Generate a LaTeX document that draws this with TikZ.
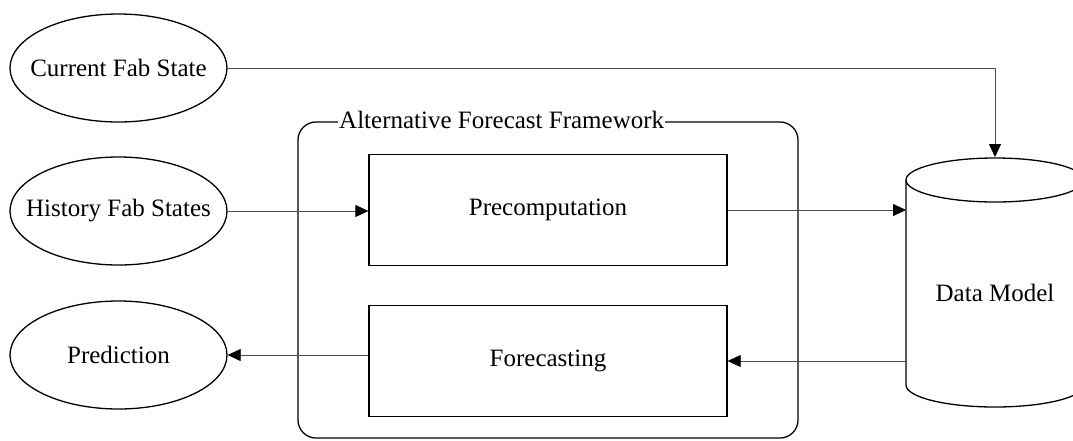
\documentclass[tikz,border=0pt]{standalone}
\usepackage{fontspec}
\setmainfont{Liberation Serif}
\usetikzlibrary{arrows.meta,shapes.geometric}
\begin{document}
\begin{tikzpicture}[x=1pt,y=-1pt,
  every node/.style={font=\fontsize{25}{30}\selectfont},
  outline/.style={draw=black, line width=1.3pt},
  state/.style={outline, ellipse, minimum width=217pt, minimum height=108pt, inner sep=0pt},
  stage/.style={outline, rectangle, minimum width=358pt, minimum height=111pt, inner sep=0pt},
  conn/.style={draw=black!70, line width=0.8pt},
  flow/.style={conn, -{Triangle[length=13pt,width=12pt,color=black]}}]
\useasboundingbox (0,0) rectangle (1073,440);

% input / output states: fixed-size ellipses with their captions
\node[state] (cfs)  at (118.5,68)  {};
\node[state] (hfs)  at (118.5,211) {};
\node[state] (pred) at (118.5,355) {};
\node (cfstext)  at (cfs)  {Current Fab State};
\node (hfstext)  at (hfs)  {History Fab States};
\node (predtext) at (pred) {Prediction};

% framework container with its title on the top edge
\draw[outline, rounded corners=18pt] (298,122) rectangle (798,438);
\node[fill=white, inner xsep=1pt, inner ysep=0pt, anchor=west] (fwlabel) at (338,120) {Alternative Forecast Framework};

% framework stages
\node[stage] (pre) at (548,210) {Precomputation};
\node[stage] (fc)  at (548,361) {Forecasting};

% data model store (cylinder)
\coordinate (dmc) at (995,180);
\draw[outline] (906,180) -- (906,385) arc[start angle=180, end angle=360, x radius=89pt, y radius=22pt] -- (1084,180);
\draw[outline, fill=white] (dmc) ellipse[x radius=89pt, y radius=22pt];
\node (dm) at (995,293) {Data Model};
\coordinate (dmtop) at (995,157);
\coordinate (dmleft) at (906,280);

% connectors
\draw[flow] (cfs.east) -| (dmtop);
\draw[flow] (hfs.east) -- (hfs.east -| pre.west);
\draw[flow] (pre.east) -- (pre.east -| dmleft);
\draw[flow] (dmleft |- fc.east) -- (fc.east);
\draw[flow] (fc.west |- pred.east) -- (pred.east);
\end{tikzpicture}
\end{document}
